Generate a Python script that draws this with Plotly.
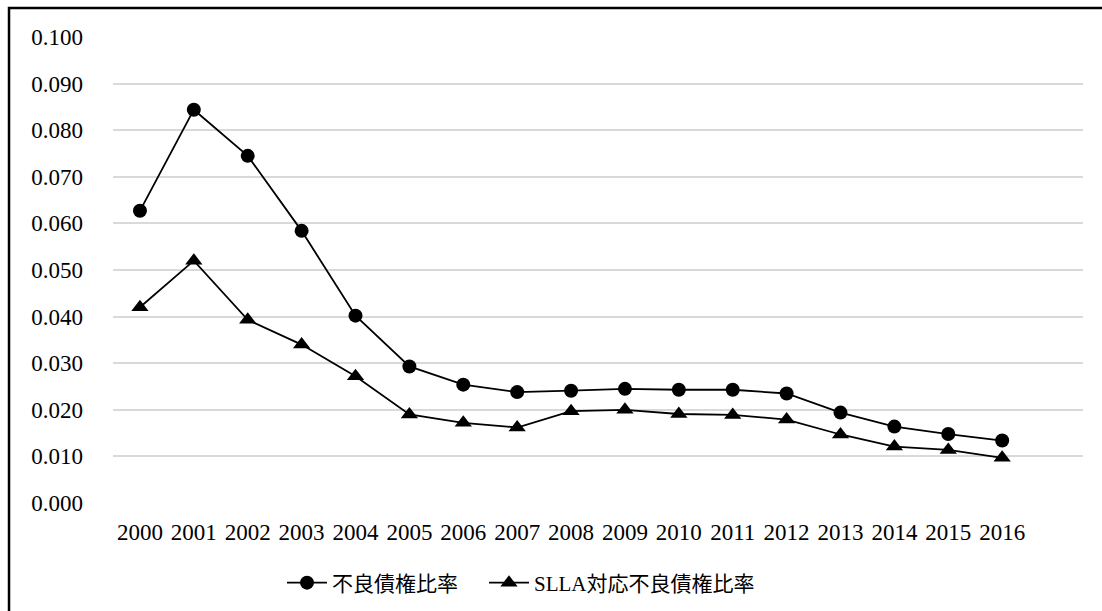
import plotly.graph_objects as go

# Fiscal years on the category axis
years = [str(y) for y in range(2000, 2017)]

# Non-performing loan ratio
npl_ratio = [0.0627, 0.0844, 0.0745, 0.0584, 0.0402, 0.0293, 0.0254, 0.0238,
             0.0241, 0.0245, 0.0243, 0.0243, 0.0235, 0.0194, 0.0164, 0.0148, 0.0134]

# NPL ratio covered by SLLA
slla_npl_ratio = [0.0420, 0.0520, 0.0393, 0.0340, 0.0272, 0.0190, 0.0172, 0.0162,
                  0.0197, 0.0200, 0.0191, 0.0189, 0.0179, 0.0147, 0.0121, 0.0114, 0.0097]

y_ticks = [0.0, 0.01, 0.02, 0.03, 0.04, 0.05, 0.06, 0.07, 0.08, 0.09, 0.10]

FONT = "Liberation Serif, 'Noto Sans CJK JP', serif"

fig = go.Figure()
fig.add_trace(go.Scatter(
    x=years, y=npl_ratio, name="不良債権比率　", mode="lines+markers",
    line=dict(color="black", width=1.8),
    marker=dict(symbol="circle", size=14, color="black"),
))
fig.add_trace(go.Scatter(
    x=years, y=slla_npl_ratio, name="SLLA対応不良債権比率", mode="lines+markers",
    line=dict(color="black", width=1.8),
    marker=dict(symbol="triangle-up", size=15, color="black"),
))

# Chart frame (top and left edges visible)
fig.add_shape(type="rect", xref="paper", yref="paper",
              x0=-0.1072, x1=1.2, y0=-0.4, y1=1.0622,
              line=dict(color="black", width=2.5), layer="above")

fig.update_layout(
    width=1102, height=611,
    margin=dict(l=113, r=19, t=37, b=108, autoexpand=False),
    paper_bgcolor="white", plot_bgcolor="white",
    font=dict(family=FONT, size=22, color="black"),
    showlegend=True,
    legend=dict(orientation="h", xref="container", yref="container",
                x=282 / 1102, xanchor="left",
                y=1 - 583 / 611, yanchor="middle",
                font=dict(family=FONT, size=21, color="black"),
                itemwidth=40),
    xaxis=dict(
        type="category", categoryorder="array", categoryarray=years,
        range=[-0.5, 17.5], showgrid=False, showline=False, zeroline=False,
        ticks="", ticklabelstandoff=13, automargin=False,
        tickfont=dict(family=FONT, size=23, color="black"),
    ),
    yaxis=dict(
        range=[0, 0.1], tickvals=y_ticks, tickformat=".3f",
        showgrid=True, gridcolor="#d9d9d9", gridwidth=1.5,
        showline=False, zeroline=False, ticks="", ticklabelstandoff=29,
        automargin=False,
        tickfont=dict(family=FONT, size=23, color="black"),
    ),
)

fig.write_html("out.html")
